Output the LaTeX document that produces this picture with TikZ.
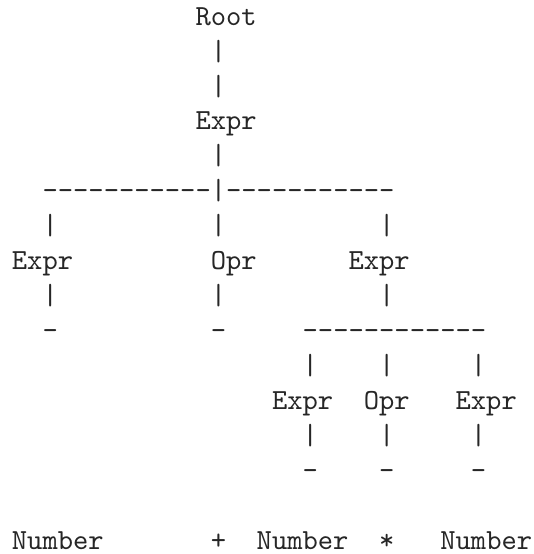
\documentclass[tikz,border=0pt]{standalone}
\begin{document}
\begin{tikzpicture}[x=5.25pt,y=12pt,
  ch/.style={font=\ttfamily, inner sep=0pt, outer sep=0pt, anchor=base west, text=black!85}]
\useasboundingbox (-4.1pt,8.6pt) rectangle (178.8pt,-181.5pt);
% row 0-4
\node[ch] (root) at (12,0) {Root};
\node[ch] (v1) at (13,-1) {|};
\node[ch] (v2) at (13,-2) {|};
\node[ch] (expr) at (12,-3) {Expr};
\node[ch] (v3) at (13,-4) {|};
% row 5
\foreach \c in {2,...,12} \node[ch] (hl\c) at (\c,-5) {-};
\node[ch] (vj) at (13,-5) {|};
\foreach \c in {14,...,24} \node[ch] (hr\c) at (\c,-5) {-};
% row 6
\node[ch] (va6) at (2,-6) {|};
\node[ch] (vb6) at (13,-6) {|};
\node[ch] (vc6) at (24,-6) {|};
% row 7
\node[ch] (exprL) at (0,-7) {Expr};
\node[ch] (oprM) at (13,-7) {Opr};
\node[ch] (exprR) at (22,-7) {Expr};
% row 8
\node[ch] (va8) at (2,-8) {|};
\node[ch] (vb8) at (13,-8) {|};
\node[ch] (vc8) at (24,-8) {|};
% row 9
\node[ch] (ta9) at (2,-9) {-};
\node[ch] (tb9) at (13,-9) {-};
\foreach \c in {19,...,30} \node[ch] (hs\c) at (\c,-9) {-};
% row 10
\node[ch] (va10) at (19,-10) {|};
\node[ch] (vb10) at (24,-10) {|};
\node[ch] (vc10) at (30,-10) {|};
% row 11
\node[ch] (exprA) at (17,-11) {Expr};
\node[ch] (oprB) at (23,-11) {Opr};
\node[ch] (exprC) at (29,-11) {Expr};
% row 12
\node[ch] (va12) at (19,-12) {|};
\node[ch] (vb12) at (24,-12) {|};
\node[ch] (vc12) at (30,-12) {|};
% row 13
\node[ch] (ta13) at (19,-13) {-};
\node[ch] (tb13) at (24,-13) {-};
\node[ch] (tc13) at (30,-13) {-};
% row 15
\node[ch] (num1) at (0,-15) {Number};
\node[ch] (plus) at (13,-15) {+};
\node[ch] (num2) at (16,-15) {Number};
\node[ch] (times) at (24,-15) {*};
\node[ch] (num3) at (28,-15) {Number};
\end{tikzpicture}
\end{document}
